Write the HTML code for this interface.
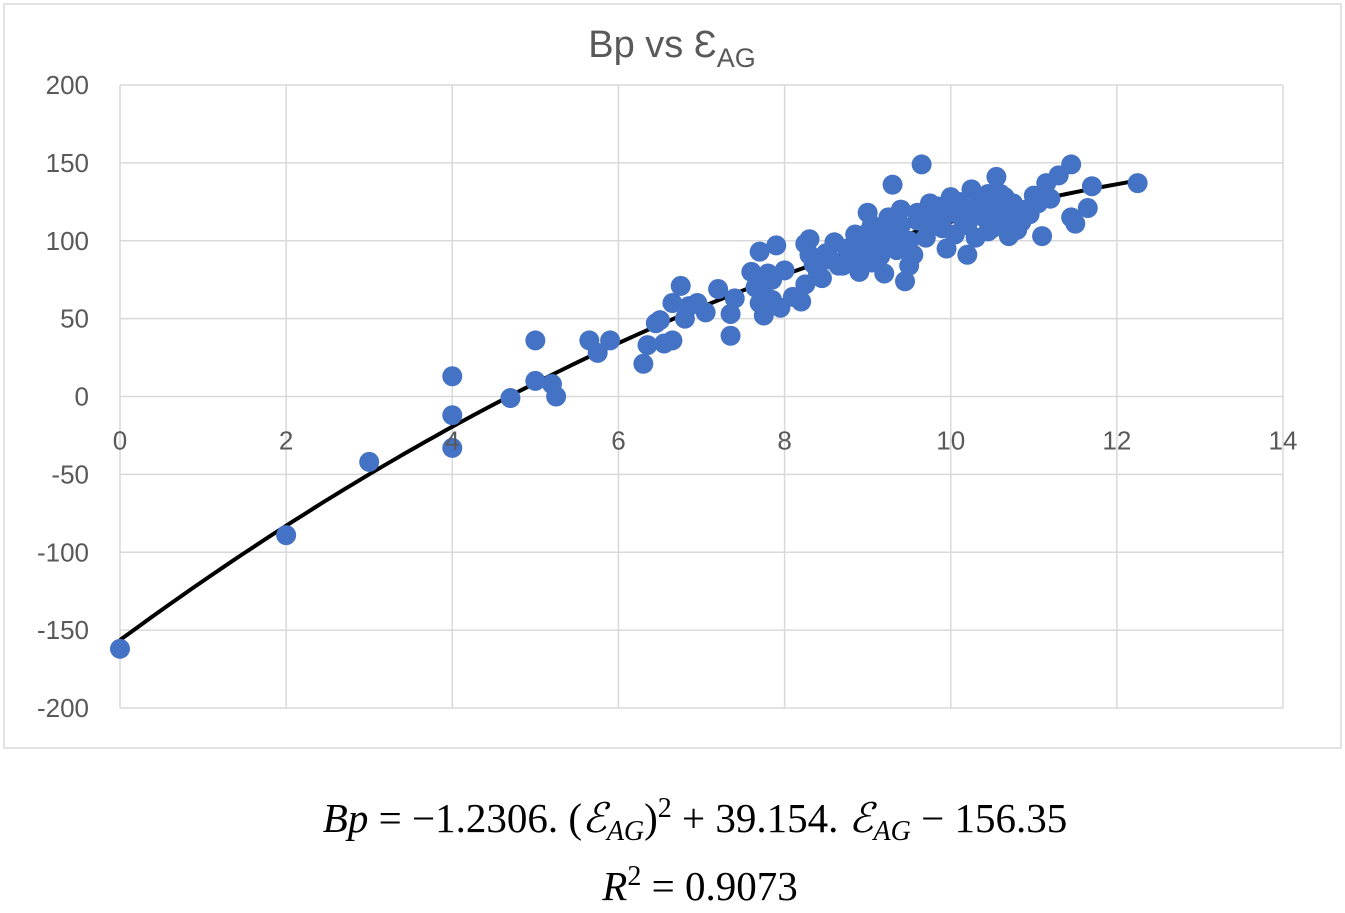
<!DOCTYPE html>
<html><head><meta charset="utf-8"><style>
body{margin:0;background:#fff;width:1345px;height:913px;overflow:hidden}
svg{display:block}
</style></head><body>
<svg width="1345" height="913">
<rect x="4" y="4" width="1337" height="744" fill="#fff" stroke="#d9d9d9" stroke-width="1.5"/>
<text x="672" y="57" text-anchor="middle" font-family="Liberation Sans, sans-serif" font-size="38" fill="#595959">Bp vs Ɛ<tspan font-size="27" dy="10">AG</tspan></text>
<g id="grid"></g><g id="fit"></g><g id="pts"></g><g id="labels"></g>
<text x="695" y="832" text-anchor="middle" font-family="Liberation Serif, serif" font-size="41" fill="#000"><tspan font-style="italic">Bp</tspan> = −1.2306. (<tspan font-style="italic">ℰ</tspan><tspan font-style="italic" font-size="28" dy="8">AG</tspan><tspan dy="-8">)</tspan><tspan font-size="28" dy="-15">2</tspan><tspan dy="15"> + 39.154. </tspan><tspan font-style="italic">ℰ</tspan><tspan font-style="italic" font-size="28" dy="8">AG</tspan><tspan dy="-8"> − 156.35</tspan></text>
<text x="700" y="900" text-anchor="middle" font-family="Liberation Serif, serif" font-size="41" fill="#000"><tspan font-style="italic">R</tspan><tspan font-size="28" dy="-15">2</tspan><tspan dy="15"> = 0.9073</tspan></text>
</svg>
<script>
const xTicks=[0,2,4,6,8,10,12,14];
const yTicks=[200,150,100,50,0,-50,-100,-150,-200];
const fitCoef=[-1.2306,39.154,-156.35];
const xs=[0,2,3,4,4,4,4.7,5,5,5.2,5.25,5.65,5.75,5.9,6.3,6.35,6.45,6.5,6.55,6.65,6.65,6.75,6.8,6.85,6.95,7.05,7.2,7.35,7.35,7.4,7.6,7.7,7.7,7.75,7.75,7.8,7.85,7.9,7.95,8,8.1,8.2,8.25,8.25,8.3,8.3,8.4,8.45,8.5,8.6,8.65,8.7,8.8,8.85,8.9,8.95,9,9,9.05,9.1,9.15,9.2,9.25,9.3,9.3,9.35,9.4,9.45,9.5,9.55,9.6,9.65,9.7,9.75,9.8,9.9,9.95,10,10.05,10.1,10.15,10.2,10.25,10.3,10.35,10.4,10.45,10.5,10.55,10.6,10.65,10.7,10.75,10.8,10.9,10.95,11,11.1,11.15,11.2,11.3,11.45,11.45,11.5,11.65,11.7,12.25,9.2,9.6,10.1,10.4,9.9,10.7,9.5,8.9,9.4,10.2,9.05,8.55,8.75,9.1,9.35,9.7,10.0,10.3,10.55,10.85,8.35,7.65,7.85,9.85,10.45,9.25,8.95,10.65,11.05];
const ys=[-162,-89,-42,13,-12,-33,-1,36,10,8,0,36,28,36,21,33,47,49,34,36,60,71,50,58,60,54,69,39,53,63,80,93,60,52,65,79,62,97,57,81,64,61,72,98,101,91,80,76,92,99,84,84,90,104,80,92,118,105,86,96,90,79,115,136,103,94,120,74,84,91,113,149,102,124,110,116,95,128,104,120,113,91,133,102,118,126,106,108,141,130,114,103,124,107,120,117,129,103,137,127,142,149,115,111,121,135,137,108,118,125,115,108,120,100,95,110,110,110,88,95,100,105,115,118,122,120,112,85,70,75,122,130,98,100,128,124];
const NS='http://www.w3.org/2000/svg';
const X=v=>120+v*(1283-120)/14;
const Y=v=>396.5-v*(708-85)/400;
function mk(t,a,p){const e=document.createElementNS(NS,t);for(const k in a)e.setAttribute(k,a[k]);p.appendChild(e);return e;}
const g=document.getElementById('grid'),lb=document.getElementById('labels');
xTicks.forEach(t=>{const l=mk('line',{x1:X(t),x2:X(t),y1:Y(200),y2:Y(-200),stroke:'#d9d9d9','stroke-width':1.5},g);


const tx=mk('text',{x:X(t),y:Y(0)+53,'text-anchor':'middle','font-family':'Liberation Sans, sans-serif','font-size':26,fill:'#595959'},lb);tx.textContent=t;

});
yTicks.forEach(t=>{const l=mk('line',{x1:X(0),x2:X(14),y1:Y(t),y2:Y(t),stroke:'#d9d9d9','stroke-width':1.5},g);


const tx=mk('text',{x:89,y:Y(t)+9,'text-anchor':'end','font-family':'Liberation Sans, sans-serif','font-size':26,fill:'#595959'},lb);tx.textContent=t;

});
const pg=document.getElementById('pts');
xs.forEach((x,i)=>{const c=mk('circle',{cx:X(x),cy:Y(ys[i]),r:10,fill:'#4472c4'},pg);

});
let d='';for(let i=0;i<=100;i++){const x=12.25*i/100;const y=fitCoef[0]*x*x+fitCoef[1]*x+fitCoef[2];d+=(i?'L':'M')+X(x).toFixed(1)+' '+Y(y).toFixed(1);}
const fl=mk('path',{d:d,fill:'none',stroke:'#000','stroke-width':4},document.getElementById('fit'));


</script>
</body></html>
